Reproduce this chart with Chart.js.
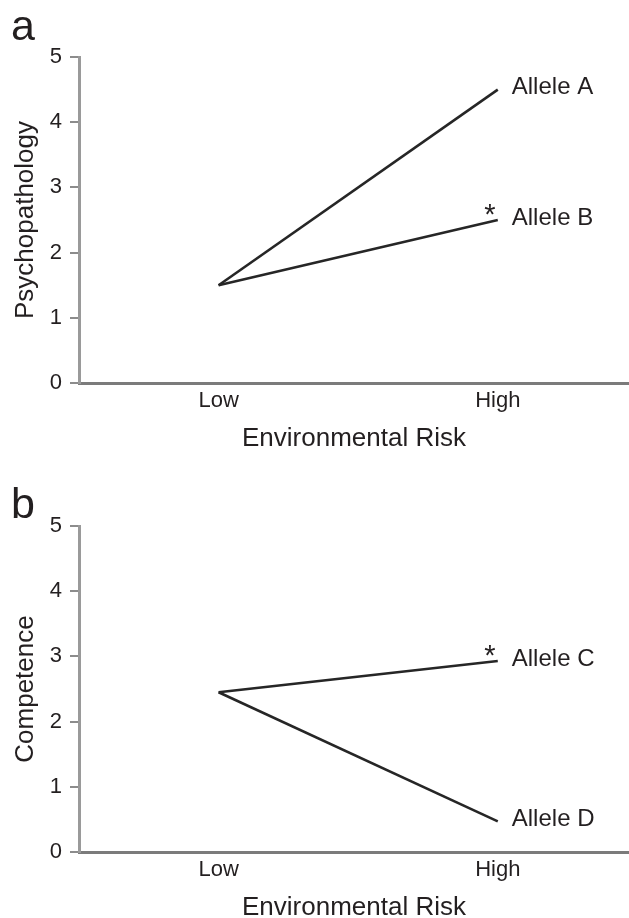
<!DOCTYPE html>
<html lang="en">
<head>
<meta charset="UTF-8">
<script src="https://cdn.jsdelivr.net/npm/chart.js"></script>
<title>Gene x Environment</title>
<style>
  html, body { margin: 0; padding: 0; background: #fff; }
  canvas { display: block; }
</style>
</head>
<body>
<canvas id="panelA" width="629" height="459"></canvas>
<canvas id="panelB" width="629" height="459"></canvas>
<script>
// values
const riskLevels = ['Low', 'High'];
const yTickValues = [0, 1, 2, 3, 4, 5];

const alleleA = [1.5, 4.5];
const alleleB = [1.5, 2.5];
const alleleC = [2.45, 2.93];
const alleleD = [2.45, 0.47];

const seriesNamesA = ['Allele A', 'Allele B'];
const seriesNamesB = ['Allele C', 'Allele D'];
const starredA = [false, true];
const starredB = [true, false];

const FONT = '"Liberation Sans", Arial, Helvetica, sans-serif';
const INK = '#231f20';

// allele names + asterisks at the line ends, panel letter in the corner
const endLabels = {
    id: 'endLabels',
    afterDatasetsDraw(chart, args, opts) {
        const ctx = chart.ctx;
        ctx.save();
        ctx.fillStyle = INK;
        chart.data.datasets.forEach((ds, i) => {
            const pts = chart.getDatasetMeta(i).data;
            const pt = pts[pts.length - 1];
            ctx.font = '24px ' + FONT;
            ctx.textAlign = 'left';
            ctx.textBaseline = 'middle';
            ctx.fillText(ds.label, pt.x + 14, pt.y - 2);
            if (ds.starred) {
                ctx.font = '29px ' + FONT;
                ctx.textAlign = 'center';
                ctx.textBaseline = 'alphabetic';
                ctx.fillText('*', pt.x - 8, pt.y + 4);
            }
        });
        ctx.font = '43px ' + FONT;
        ctx.textAlign = 'left';
        ctx.textBaseline = 'alphabetic';
        ctx.fillText(opts.letter, 11, opts.letterY);
        ctx.restore();
    }
};

function toPoints(values) {
    return values.map((v, i) => ({ x: i, y: v }));
}

function makePanel(id, names, seriesList, starred, yTitle, letter, letterY, padTop, padBottom) {
    const ctx = document.getElementById(id).getContext('2d');
    return new Chart(ctx, {
        type: 'line',
        data: {
            datasets: seriesList.map((vals, i) => ({
                label: names[i],
                data: toPoints(vals),
                starred: starred[i],
                borderColor: '#262626',
                borderWidth: 2.6,
                pointRadius: 0,
                fill: false,
                tension: 0
            }))
        },
        options: {
            responsive: false,
            animation: false,
            layout: { padding: { top: padTop, bottom: padBottom, left: 0, right: 0 } },
            plugins: {
                legend: { display: false },
                tooltip: { enabled: false },
                endLabels: { letter: letter, letterY: letterY }
            },
            scales: {
                x: {
                    type: 'linear',
                    min: -0.5,
                    max: 1.47,
                    afterBuildTicks: s => { s.ticks = riskLevels.map((_, i) => ({ value: i })); },
                    afterFit: s => { s.height = 66; },
                    grid: { display: false, drawTicks: false },
                    border: { display: true, color: '#7b7b7b', width: 3 },
                    ticks: {
                        callback: v => riskLevels[v],
                        color: INK,
                        font: { family: FONT, size: 22 },
                        padding: 5,
                        maxRotation: 0
                    },
                    title: {
                        display: true,
                        text: 'Environmental Risk',
                        color: INK,
                        font: { family: FONT, size: 26, lineHeight: 0.8 },
                        padding: { top: 0, bottom: 0 }
                    }
                },
                y: {
                    min: yTickValues[0],
                    max: yTickValues[yTickValues.length - 1],
                    afterBuildTicks: s => { s.ticks = yTickValues.map(v => ({ value: v })); },
                    afterFit: s => { s.width = 79; },
                    grid: {
                        drawOnChartArea: false,
                        drawTicks: true,
                        tickLength: 9,
                        color: '#8c8c8c',
                        lineWidth: 2
                    },
                    border: { display: true, color: '#9a9a9a', width: 3 },
                    ticks: {
                        color: INK,
                        font: { family: FONT, size: 22 },
                        padding: 8
                    },
                    title: {
                        display: true,
                        text: yTitle,
                        color: INK,
                        font: { family: FONT, size: 26 },
                        padding: { top: 10, bottom: 0 }
                    }
                }
            }
        },
        plugins: [endLabels]
    });
}

makePanel('panelA', seriesNamesA, [alleleA, alleleB], starredA, 'Psychopathology', 'a', 40, 57, 10);
makePanel('panelB', seriesNamesB, [alleleC, alleleD], starredB, 'Competence', 'b', 59, 67, 0);
</script>
</body>
</html>
